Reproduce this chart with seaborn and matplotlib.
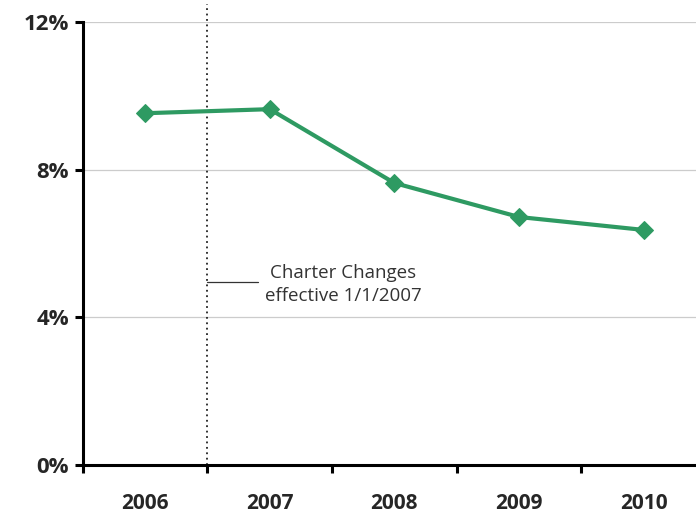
import numpy as np
import pandas as pd
import seaborn as sns
import matplotlib.pyplot as plt

years = ['2006', '2007', '2008', '2009', '2010']
rate = [9.53, 9.64, 7.64, 6.72, 6.37]
y_ticks = [0, 4, 8, 12]
y_labels = ['0%', '4%', '8%', '12%']

df = pd.DataFrame({'year': years, 'rate': rate})

sns.set_style('white')
plt.rcParams['font.family'] = ['Open Sans', 'DejaVu Sans']

fig = plt.figure(figsize=(6.96, 5.18), dpi=100)
ax = fig.add_axes([0.119, 0.102, 0.881, 0.8555])

green = '#2e9a62'
sns.lineplot(data=df, x='year', y='rate', ax=ax, color=green, linewidth=3,
             marker='D', markersize=9, markeredgecolor=green, sort=False, zorder=3)

ax.set_xlim(-0.5, 4.42)
ax.set_ylim(0, 12)
ax.set_yticks(y_ticks)
ax.set_yticklabels(y_labels, fontsize=16, fontweight='bold')
ax.set_xticks(np.arange(-0.5, 4.5, 1))
ax.set_xticklabels([])
for i, yr in enumerate(years):
    ax.text(i, -1.05, yr, ha='center', va='center', fontsize=15, fontweight='bold')
ax.set_xlabel('')
ax.set_ylabel('')

for y in [4, 8, 12]:
    ax.axhline(y, color='#cccccc', linewidth=0.9, zorder=0)

for side in ['top', 'right']:
    ax.spines[side].set_visible(False)
for side in ['left', 'bottom']:
    ax.spines[side].set_linewidth(2.2)
    ax.spines[side].set_color('black')
ax.tick_params(axis='both', direction='out', length=6, width=2.2, color='black',
               bottom=True, left=True, pad=4)

# charter change marker
ax.axvline(0.5, ymin=0, ymax=1.04, color='#222222', linestyle=(0, (1, 2)),
           linewidth=1.3, clip_on=False, zorder=2)
ax.plot([0.5, 0.905], [4.96, 4.96], color='#333333', linewidth=0.9)
ax.text(1.59, 4.89, 'Charter Changes\neffective 1/1/2007', ha='center', va='center',
        fontsize=13.5, color='#333333', linespacing=1.35)

fig.savefig('out.png', dpi=100)
